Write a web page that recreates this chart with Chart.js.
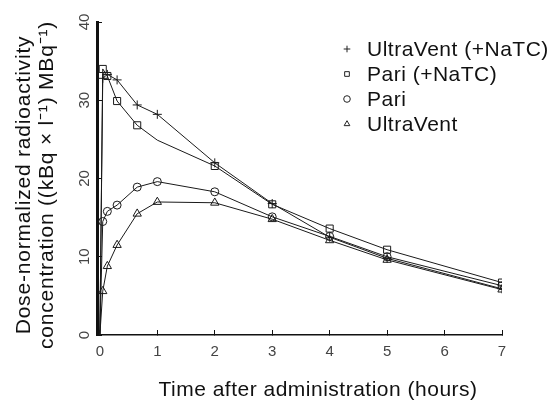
<!DOCTYPE html>
<html>
<head>
<meta charset="utf-8">
<script src="https://cdn.jsdelivr.net/npm/chart.js@4/dist/chart.umd.min.js"></script>
<style>
  html, body { margin: 0; padding: 0; background: #fff; }
  canvas { display: block; }
</style>
</head>
<body>
<canvas id="doseChart" width="552" height="403"></canvas>
<script>
// время после введения, часы
const times = [0, 0.05, 0.13, 0.3, 0.65, 1, 2, 3, 4, 5, 7];
const ultraVentNaTC = [0, 32.8, 33.3, 32.6, 29.4, 28.2, 22.0, 16.8, 12.5, 9.8, 5.9];
const pariNaTC = [0, 34.0, 33.1, 29.9, 26.8, 24.9, 21.6, 16.7, 13.6, 10.9, 6.7];
const pari = [0, 14.5, 15.8, 16.6, 18.9, 19.6, 18.3, 15.1, 12.6, 10.0, 6.3];
const ultraVent = [0, 5.6, 8.8, 11.5, 15.5, 17.0, 16.9, 14.8, 12.1, 9.6, 5.8];

const seriesLabels = ["UltraVent (+NaTC)", "Pari (+NaTC)", "Pari", "UltraVent"];
const xTicks = [0, 1, 2, 3, 4, 5, 6, 7];
const yTicks = [0, 10, 20, 30, 40];
const xTitle = "Time after administration (hours)";
const yTitle = ["Dose-normalized radioactivity", "concentration ((kBq × l⁻¹) MBq⁻¹)"];

const FONT = "'Liberation Sans', Arial, sans-serif";

function toPoints(values) {
  return times.map((t, i) => ({ x: t, y: values[i] }));
}

function makeSet(label, values, style, size, skip) {
  return {
    label: label,
    data: toPoints(values),
    borderColor: "#1a1a1a",
    borderWidth: 1,
    backgroundColor: "rgba(0,0,0,0)",
    pointStyle: style,
    pointRadius: (c) => (c.dataIndex === 0 || c.dataIndex === skip ? 0 : size),
    pointBorderColor: "#1a1a1a",
    pointBorderWidth: 1,
    pointBackgroundColor: "rgba(0,0,0,0)",
    tension: 0,
  };
}

// подписи осей и легенда рисуем сами
const textPlugin = {
  id: "textLayer",
  afterDraw(chart) {
    const ctx = chart.ctx;
    ctx.save();
    ctx.fillStyle = "#111";
    ctx.textBaseline = "middle";
    ctx.textAlign = "center";
    ctx.font = "21px " + FONT;
    ctx.letterSpacing = "0.5px";
    ctx.fillText(xTitle, 318, 390);

    ctx.save();
    ctx.translate(24, 185);
    ctx.rotate(-Math.PI / 2);
    ctx.letterSpacing = "0.8px";
    ctx.fillText(yTitle[0], 0, 0);
    ctx.fillText(yTitle[1], 0, 23);
    ctx.restore();

    chart.data.datasets.forEach((ds, i) => {
      const y = 49 + i * 25;
      ctx.strokeStyle = "#222";
      ctx.fillStyle = "#fff";
      ctx.lineWidth = 1;
      Chart.helpers.drawPoint(ctx, { pointStyle: ds.pointStyle, radius: 3.3, rotation: 0, borderWidth: 1 }, 347, y);
      ctx.fillStyle = "#111";
      ctx.textAlign = "left";
      ctx.letterSpacing = "0.5px";
      ctx.fillText(ds.label, 367, y + 1);
    });
    ctx.restore();
  },
};

const chart = new Chart(document.getElementById("doseChart"), {
  type: "line",
  data: {
    datasets: [
      makeSet(seriesLabels[0], ultraVentNaTC, "cross", 4.5, -1),
      makeSet(seriesLabels[1], pariNaTC, "rect", 5, 5),
      makeSet(seriesLabels[2], pari, "circle", 4, -1),
      makeSet(seriesLabels[3], ultraVent, "triangle", 4.8, -1),
    ],
  },
  options: {
    responsive: false,
    animation: false,
    devicePixelRatio: 1,
    layout: { padding: { top: 22, right: 50, left: 0, bottom: 0 } },
    plugins: {
      legend: { display: false },
      tooltip: { enabled: false },
    },
    scales: {
      x: {
        type: "linear",
        min: -0.05,
        max: 7,
        afterBuildTicks: (s) => { s.ticks = xTicks.map((v) => ({ value: v })); },
        afterFit: (s) => { s.height = 68; },
        border: { color: "#111", width: 1.5 },
        grid: { drawOnChartArea: false, tickLength: -5, color: "#111", tickWidth: 1 },
        ticks: { padding: 13, color: "#444", font: { family: FONT, size: 15 } },
      },
      y: {
        min: 0,
        max: 40,
        afterBuildTicks: (s) => { s.ticks = yTicks.map((v) => ({ value: v })); },
        afterFit: (s) => { s.width = 97; },
        border: { color: "#111", width: 3 },
        grid: { drawOnChartArea: false, tickLength: -5, color: "#111", tickWidth: 1 },
        ticks: {
          padding: 9,
          minRotation: 90,
          maxRotation: 90,
          crossAlign: "center",
          color: "#444",
          font: { family: FONT, size: 15 },
        },
      },
    },
  },
  plugins: [textPlugin],
});
</script>
</body>
</html>
